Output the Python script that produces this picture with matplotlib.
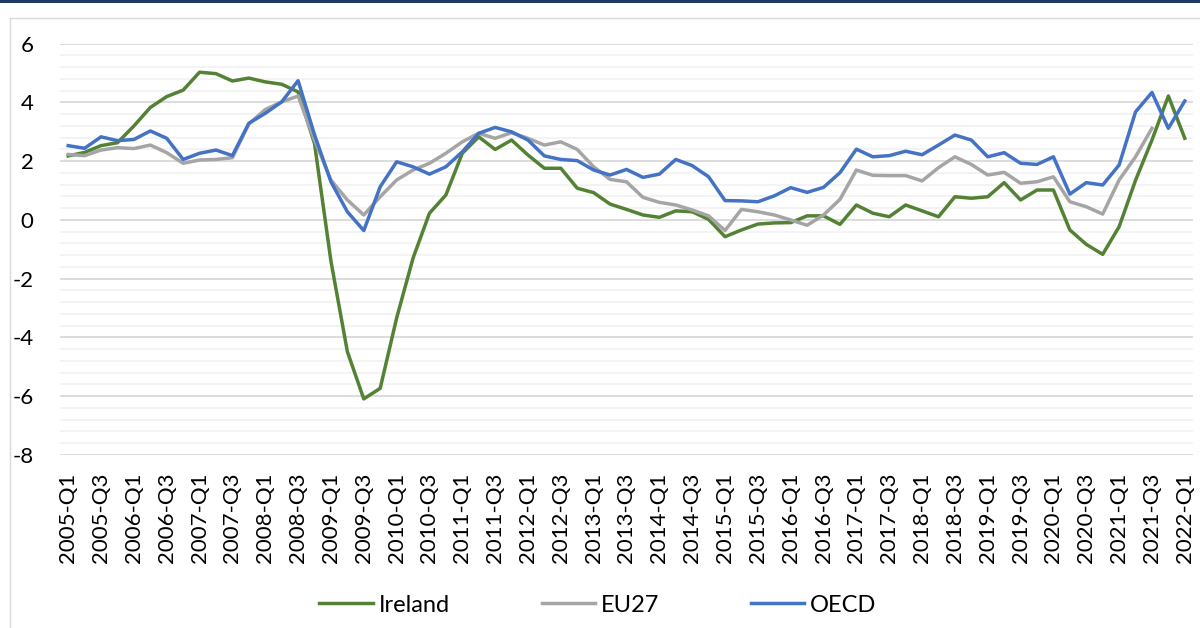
import numpy as np
import matplotlib.pyplot as plt
from matplotlib.patches import Rectangle

plt.rcParams['font.family'] = ['Lato', 'DejaVu Sans']

# quarterly labels 2005-Q1 .. 2022-Q1
quarters = ["%d-Q%d" % (y, q) for y in range(2005, 2023) for q in range(1, 5)][:69]

ireland = [2.18, 2.30, 2.53, 2.63, 3.20, 3.83, 4.20, 4.42, 5.03, 4.98,
           4.73, 4.83, 4.70, 4.62, 4.36, 2.60, -1.40, -4.48, -6.09, -5.73,
           -3.34, -1.30, 0.23, 0.85, 2.27, 2.83, 2.40, 2.72, 2.21, 1.76,
           1.76, 1.08, 0.93, 0.54, 0.36, 0.17, 0.09, 0.31, 0.28, 0.02,
           -0.57, -0.34, -0.14, -0.10, -0.09, 0.14, 0.14, -0.15, 0.51, 0.23,
           0.11, 0.51, 0.31, 0.11, 0.79, 0.74, 0.79, 1.27, 0.68, 1.02,
           1.02, -0.34, -0.83, -1.17, -0.23, 1.35, 2.72, 4.22, 2.78]

eu27 = [2.23, 2.19, 2.38, 2.46, 2.43, 2.55, 2.29, 1.93, 2.04, 2.06,
        2.12, 3.27, 3.76, 4.02, 4.22, 2.72, 1.36, 0.68, 0.17, 0.79,
        1.36, 1.70, 1.93, 2.27, 2.66, 2.95, 2.78, 2.97, 2.78, 2.55,
        2.66, 2.40, 1.81, 1.38, 1.30, 0.77, 0.60, 0.51, 0.34, 0.14,
        -0.36, 0.36, 0.28, 0.17, 0.00, -0.18, 0.17, 0.70, 1.70, 1.52,
        1.51, 1.51, 1.33, 1.78, 2.15, 1.89, 1.53, 1.62, 1.25, 1.30,
        1.47, 0.62, 0.45, 0.20, 1.36, 2.15, 3.12, np.nan, np.nan]

oecd = [2.53, 2.44, 2.83, 2.70, 2.74, 3.03, 2.78, 2.06, 2.27, 2.38,
        2.19, 3.29, 3.63, 4.02, 4.74, 2.90, 1.30, 0.28, -0.36, 1.13,
        1.98, 1.81, 1.56, 1.81, 2.32, 2.95, 3.15, 3.00, 2.72, 2.18,
        2.06, 2.02, 1.70, 1.53, 1.72, 1.45, 1.56, 2.06, 1.85, 1.47,
        0.66, 0.65, 0.62, 0.82, 1.10, 0.94, 1.11, 1.61, 2.41, 2.15,
        2.19, 2.34, 2.22, 2.55, 2.89, 2.72, 2.15, 2.29, 1.93, 1.89,
        2.15, 0.88, 1.27, 1.19, 1.87, 3.68, 4.34, 3.12, 4.05]

W, H = 1200, 628
fig = plt.figure(figsize=(W / 100, H / 100), dpi=100)

# outer frame and dark top rule
fig.patches.append(Rectangle((10 / W, -0.1), 1.2, 1 - 18 / H + 0.1, transform=fig.transFigure,
                             fill=False, edgecolor='#d9d9d9', lw=1.0))
fig.patches.append(Rectangle((0, 1 - 3 / H), 1, 3 / H, transform=fig.transFigure,
                             color='#1f3864', lw=0))

ax = fig.add_axes([60 / W, 1 - 455 / H, (1193 - 60) / W, (455 - 43.7) / H])
x = np.arange(len(quarters))

ax.plot(x, ireland, color='#548235', lw=2.5, label='Ireland', solid_joinstyle='round')
ax.plot(x, eu27, color='#a5a5a5', lw=2.5, label='EU27', solid_joinstyle='round')
ax.plot(x, oecd, color='#4472c4', lw=2.5, label='OECD', solid_joinstyle='round')

ax.set_xlim(-0.5, len(quarters) - 0.5)
ax.set_ylim(-8, 6)
ax.set_yticks(np.arange(-8, 7, 2))
minor = [v for v in np.round(np.arange(-8, 6.01, 0.4), 2) if abs(v / 2 - round(v / 2)) > 1e-6]
ax.set_yticks(minor, minor=True)
ax.grid(axis='y', which='major', color='#d9d9d9', lw=1.3)
ax.grid(axis='y', which='minor', color='#f2f2f2', lw=1.3)
ax.set_axisbelow(True)

ax.set_xticks(x[::2])
ax.set_xticklabels(quarters[::2], rotation=90, fontsize=16)
ax.tick_params(axis='x', length=0, pad=12.5)
ax.tick_params(axis='y', which='both', length=0, pad=19, labelsize=16)
ax.set_yticklabels([str(v) for v in range(-8, 7, 2)])
for s in ax.spines.values():
    s.set_visible(False)

ax.legend(loc='center', bbox_to_anchor=(598 / W, 1 - 605 / H), bbox_transform=fig.transFigure,
          ncol=3, frameon=False, fontsize=17, handlelength=2.25, handletextpad=0.25,
          columnspacing=3.9)

fig.savefig('out.png', dpi=100)
